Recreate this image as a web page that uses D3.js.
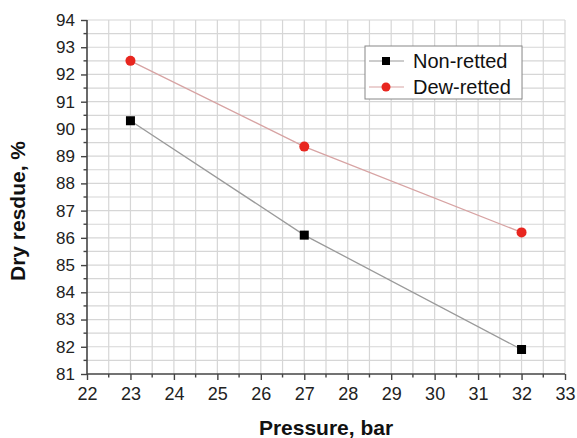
<!DOCTYPE html>
<html>
<head>
<meta charset="utf-8">
<script src="https://cdn.jsdelivr.net/npm/d3@7"></script>
<style>
  body { margin: 0; background: #fff; }
  text { font-family: "Liberation Sans", Arial, sans-serif; }
</style>
</head>
<body>
<div id="chart"></div>
<script>
var pressure = [23, 27, 32];
var nonRetted = [90.3, 86.1, 81.9];
var dewRetted = [92.5, 89.35, 86.2];
var seriesNames = ["Non-retted", "Dew-retted"];
var xTicks = d3.range(22, 34, 1);
var yTicks = d3.range(81, 95, 1);

var margin = { top: 20, right: 12, bottom: 64, left: 87 },
  width = 577 - margin.left - margin.right,
  height = 438 - margin.top - margin.bottom;

var svg = d3.select("#chart").append("svg")
  .attr("width", 577)
  .attr("height", 438);

var g = svg.append("g")
  .attr("transform", "translate(" + margin.left + "," + margin.top + ")");

var x = d3.scaleLinear().domain([22, 33]).range([0, 478]);
var y = d3.scaleLinear().domain([81, 94]).range([height, 0]);

// grid every 0.5
var gx = d3.range(22.5, 33.01, 0.5);
var gy = d3.range(81.5, 94.01, 0.5);

g.append("g").selectAll("line").data(gx).enter().append("line")
  .attr("x1", function (d) { return x(d); })
  .attr("x2", function (d) { return x(d); })
  .attr("y1", 0).attr("y2", height)
  .attr("stroke", "#d6d6d6").attr("stroke-width", 1.2);

g.append("g").selectAll("line").data(gy).enter().append("line")
  .attr("x1", 0).attr("x2", x(33))
  .attr("y1", function (d) { return y(d); })
  .attr("y2", function (d) { return y(d); })
  .attr("stroke", "#d6d6d6").attr("stroke-width", 1.2);

// minor ticks
var minorX = d3.range(22.5, 33, 1);
var minorY = d3.range(81.5, 94, 1);

var xAxis = d3.axisBottom(x).tickValues(xTicks).tickSize(6).tickPadding(7),
  yAxis = d3.axisLeft(y).tickValues(yTicks).tickSize(6).tickPadding(6);

var ax = g.append("g")
  .attr("class", "axis axis--x")
  .attr("transform", "translate(0," + height + ")")
  .call(xAxis);

var ay = g.append("g")
  .attr("class", "axis axis--y")
  .call(yAxis);

ax.append("g").selectAll("line").data(minorX).enter().append("line")
  .attr("x1", function (d) { return x(d); }).attr("x2", function (d) { return x(d); })
  .attr("y1", 0).attr("y2", 3.5);
ay.append("g").selectAll("line").data(minorY).enter().append("line")
  .attr("y1", function (d) { return y(d); }).attr("y2", function (d) { return y(d); })
  .attr("x1", 0).attr("x2", -3.5);

[ax, ay].forEach(function (a) {
  a.select(".domain").attr("stroke", "#444").attr("stroke-width", 1.6);
  a.selectAll("line").attr("stroke", "#444").attr("stroke-width", 1.4);
  a.selectAll("text").attr("fill", "#222");
});
ax.selectAll("text").style("font-size", "18px");
ay.selectAll("text").style("font-size", "17px");
ax.select(".domain").attr("d", "M0,0H" + x(33));
ay.select(".domain").attr("d", "M0," + height + "V0");

// lines
var line = d3.line()
  .x(function (d) { return x(d[0]); })
  .y(function (d) { return y(d[1]); });

var nonData = pressure.map(function (p, i) { return [p, nonRetted[i]]; });
var dewData = pressure.map(function (p, i) { return [p, dewRetted[i]]; });

g.append("path").datum(nonData).attr("d", line)
  .attr("fill", "none").attr("stroke", "#9a9a9a").attr("stroke-width", 1.3);
g.append("path").datum(dewData).attr("d", line)
  .attr("fill", "none").attr("stroke", "#d7a3a3").attr("stroke-width", 1.3);

g.selectAll(".sq").data(nonData).enter().append("rect")
  .attr("class", "sq")
  .attr("x", function (d) { return x(d[0]) - 4.5; })
  .attr("y", function (d) { return y(d[1]) - 4.5; })
  .attr("width", 9).attr("height", 9)
  .attr("fill", "#000");

g.selectAll(".dot").data(dewData).enter().append("circle")
  .attr("class", "dot")
  .attr("cx", function (d) { return x(d[0]); })
  .attr("cy", function (d) { return y(d[1]); })
  .attr("r", 5)
  .attr("fill", "#e8261f");

// legend
var legend = svg.append("g").attr("transform", "translate(365,46)");
legend.append("rect")
  .attr("width", 157).attr("height", 53)
  .attr("fill", "#fff").attr("stroke", "#888").attr("stroke-width", 1);

var lineColors = ["#9a9a9a", "#d7a3a3"];
seriesNames.forEach(function (s, i) {
  var ly = 15 + i * 26;
  legend.append("line")
    .attr("x1", 4).attr("x2", 39).attr("y1", ly).attr("y2", ly)
    .attr("stroke", lineColors[i]).attr("stroke-width", 1.2);
  if (i == 0) {
    legend.append("rect").attr("x", 17).attr("y", ly - 4).attr("width", 8).attr("height", 8).attr("fill", "#000");
  } else {
    legend.append("circle").attr("cx", 21).attr("cy", ly).attr("r", 4.5).attr("fill", "#e8261f");
  }
  legend.append("text")
    .attr("x", 48).attr("y", ly).attr("dy", "0.35em")
    .style("font-size", "20px").attr("fill", "#111")
    .text(s);
});

// axis titles
svg.append("text")
  .attr("x", margin.left + x(27.5)).attr("y", 435)
  .attr("text-anchor", "middle")
  .style("font-size", "21px").style("font-weight", "bold").attr("fill", "#111")
  .text("Pressure, bar");

svg.append("text")
  .attr("transform", "translate(25," + 211 + ") rotate(-90)")
  .attr("text-anchor", "middle")
  .style("font-size", "21px").style("font-weight", "bold").attr("fill", "#111")
  .text("Dry resdue, %");
</script>
</body>
</html>
